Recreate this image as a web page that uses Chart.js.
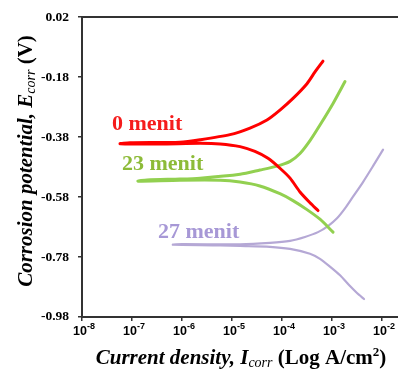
<!DOCTYPE html>
<html>
<head>
<meta charset="utf-8">
<script src="https://cdn.jsdelivr.net/npm/chart.js@4.4.1/dist/chart.umd.min.js"></script>
<style>
  html, body { margin: 0; padding: 0; background: #fff; }
  canvas { display: block; }
</style>
</head>
<body>
<canvas id="chart" width="398" height="370"></canvas>
<script>
// Tick labels
const xTickExps = [-8, -7, -6, -5, -4, -3, -2];
const yTicks = [-0.98, -0.78, -0.58, -0.38, -0.18, 0.02];

// Series names
const seriesNames = ['0 menit', '23 menit', '27 menit'];

// 0 menit: current density (A/cm2) and potential (V), cathodic end -> anodic end
const i0 = [5.25e-4, 3.63e-4, 2.29e-4, 1.45e-4, 9.1e-5, 5.25e-5, 2.88e-5, 1.45e-5, 5.8e-6, 2.3e-6, 3.6e-7, 5.8e-8,
            9.1e-8, 9.1e-7, 2.29e-6, 9.1e-6, 2.29e-5, 5.0e-5, 9.1e-5, 1.66e-4, 3.16e-4, 4.57e-4, 6.6e-4];
const e0 = [-0.625, -0.599, -0.563, -0.517, -0.484, -0.451, -0.428, -0.412, -0.403, -0.401, -0.403, -0.402,
            -0.399, -0.397, -0.389, -0.372, -0.350, -0.323, -0.290, -0.251, -0.202, -0.163, -0.127];

// 23 menit
const i23 = [1.05e-3, 5.75e-4, 3.16e-4, 1.66e-4, 9.1e-5, 3.6e-5, 1.45e-5, 5.8e-6, 9.1e-7, 1.32e-7,
             2.0e-7, 9.1e-7, 2.29e-6, 1.45e-5, 3.63e-5, 7.94e-5, 1.45e-4, 2.29e-4, 3.63e-4, 5.75e-4, 1.05e-3, 1.82e-3];
const e23 = [-0.697, -0.654, -0.622, -0.592, -0.569, -0.543, -0.530, -0.524, -0.524, -0.527,
             -0.523, -0.520, -0.517, -0.504, -0.490, -0.477, -0.461, -0.435, -0.392, -0.340, -0.268, -0.195];

// 27 menit
const i27 = [4.37e-3, 3.16e-3, 2.29e-3, 1.45e-3, 9.1e-4, 5.75e-4, 3.63e-4, 1.45e-4, 5.75e-5, 1.45e-5, 5.8e-6, 6.6e-7,
             1.0e-6, 1.45e-5, 5.75e-5, 1.45e-4, 2.88e-4, 5.25e-4, 8.3e-4, 1.26e-3, 1.82e-3, 2.63e-3, 4.17e-3, 6.6e-3, 1.05e-2];
const e27 = [-0.920, -0.900, -0.877, -0.841, -0.812, -0.786, -0.769, -0.753, -0.746, -0.743, -0.741, -0.739,
             -0.737, -0.738, -0.733, -0.726, -0.713, -0.697, -0.677, -0.651, -0.618, -0.579, -0.530, -0.477, -0.422];

const lineColors = ['#ff0000', '#92d050', '#b5a8d5'];
const textColors = ['#f51c1c', '#8dbb38', '#a798d6'];
const lineWidths = [3, 3, 2.2];
// label anchors in data units (left edge, baseline)
const labelAnchors = [[10 ** -7.4, -0.356], [10 ** -7.2, -0.491], [10 ** -6.48, -0.717]];

const series = [[i0, e0], [i23, e23], [i27, e27]];

const serif = '"Liberation Serif", "Times New Roman", serif';
const sans = '"Liberation Sans", Arial, sans-serif';

function drawPieces(ctx, pieces, x, y) {
    let total = 0;
    pieces.forEach(p => { ctx.font = p.font; total += ctx.measureText(p.text).width; });
    let cx = x - total / 2;
    pieces.forEach(p => {
        ctx.font = p.font;
        ctx.fillText(p.text, cx, y + (p.dy || 0));
        cx += ctx.measureText(p.text).width;
    });
}

const extras = {
    id: 'extras',
    afterDraw(chart) {
        const ctx = chart.ctx;
        const area = chart.chartArea;
        const xs = chart.scales.x, ys = chart.scales.y;
        ctx.save();

        // top frame line
        ctx.strokeStyle = '#333';
        ctx.lineWidth = 2;
        ctx.beginPath();
        ctx.moveTo(area.left, area.top);
        ctx.lineTo(area.right, area.top);
        ctx.stroke();

        // x tick labels 10^n
        ctx.fillStyle = '#000';
        ctx.textBaseline = 'alphabetic';
        ctx.textAlign = 'left';
        xTickExps.forEach(n => {
            const px = xs.getPixelForValue(10 ** n);
            ctx.font = 'bold 12.5px ' + sans;
            const w1 = ctx.measureText('10').width;
            ctx.font = 'bold 9px ' + sans;
            const sup = String(n);
            const w2 = ctx.measureText(sup).width;
            const left = px + 2 - (w1 + w2) / 2;
            ctx.font = 'bold 12.5px ' + sans;
            ctx.fillText('10', left, 335);
            ctx.font = 'bold 9px ' + sans;
            ctx.fillText(sup, left + w1, 329);
        });

        // series labels
        seriesNames.forEach((name, k) => {
            ctx.font = 'bold 22px ' + serif;
            ctx.fillStyle = textColors[k];
            ctx.fillText(name, xs.getPixelForValue(labelAnchors[k][0]), ys.getPixelForValue(labelAnchors[k][1]));
        });

        // x title
        ctx.fillStyle = '#000';
        drawPieces(ctx, [
            { text: 'Current density, I', font: 'italic bold 21px ' + serif },
            { text: 'corr', font: 'italic 14px ' + serif, dy: 3 },
            { text: ' (Log A/cm', font: 'bold 21px ' + serif },
            { text: '2', font: 'bold 13px ' + serif, dy: -8 },
            { text: ')', font: 'bold 21px ' + serif }
        ], 241, 364);

        // y title
        ctx.translate(32, 161);
        ctx.rotate(-Math.PI / 2);
        drawPieces(ctx, [
            { text: 'Corrosion potential, E', font: 'italic bold 21px ' + serif },
            { text: 'corr', font: 'italic 14px ' + serif, dy: 3 },
            { text: ' (V)', font: 'bold 21px ' + serif }
        ], 0, 0);

        ctx.restore();
    }
};

new Chart(document.getElementById('chart'), {
    type: 'line',
    data: {
        datasets: series.map(([cur, pot], k) => ({
            label: seriesNames[k],
            data: cur.map((c, j) => ({ x: c, y: pot[j] })),
            borderColor: lineColors[k],
            borderWidth: lineWidths[k],
            pointRadius: 0,
            tension: 0.25,
            fill: false,
            borderJoinStyle: 'round',
            borderCapStyle: 'round'
        }))
    },
    options: {
        responsive: false,
        animation: false,
        devicePixelRatio: 1,
        layout: { padding: { top: 12, left: 0, right: 0, bottom: 0 } },
        plugins: { legend: { display: false }, tooltip: { enabled: false } },
        scales: {
            x: {
                type: 'logarithmic',
                min: 1e-8,
                max: 10 ** -1.68,
                afterBuildTicks: scale => { scale.ticks = xTickExps.map(n => ({ value: 10 ** n })); },
                afterFit: scale => { scale.height = 53; },
                ticks: { display: false },
                grid: { drawOnChartArea: false, drawTicks: true, tickLength: 4, color: '#333', lineWidth: 1.5 },
                border: { color: '#333', width: 2 }
            },
            y: {
                type: 'linear',
                min: -0.98,
                max: 0.02,
                afterBuildTicks: scale => { scale.ticks = yTicks.map(v => ({ value: v })); },
                afterFit: scale => { scale.width = 82; },
                ticks: {
                    callback: v => v.toFixed(2),
                    color: '#000',
                    padding: 9,
                    font: { family: serif, weight: 'bold', size: 13.5 }
                },
                grid: { drawOnChartArea: false, drawTicks: true, tickLength: 4, color: '#333', lineWidth: 1.5 },
                border: { color: '#333', width: 2 }
            }
        }
    },
    plugins: [extras]
});
</script>
</body>
</html>
